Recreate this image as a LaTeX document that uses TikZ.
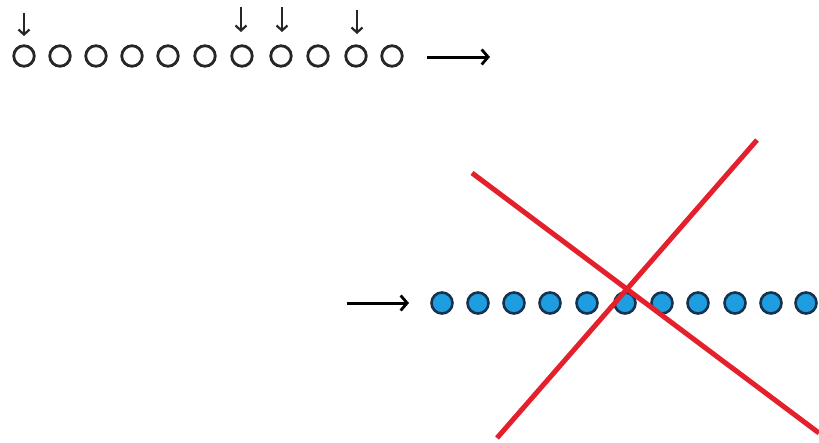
\documentclass[tikz,border=0pt]{standalone}
\usetikzlibrary{arrows.meta}
\definecolor{dotblue}{HTML}{1E9DE0}
\definecolor{dotedge}{HTML}{17324F}
\definecolor{crossred}{HTML}{E3202B}
\begin{document}
\begin{tikzpicture}[x=1pt,y=-1pt,
  ring/.style={circle,draw=black!85,line width=2.8pt,minimum size=20.5pt,inner sep=0pt},
  bead/.style={circle,draw=dotedge,fill=dotblue,line width=2.6pt,minimum size=21pt,inner sep=0pt},
  downarr/.style={-{Straight Barb[length=5pt,width=11pt,line width=2.2pt]},line width=2.4pt,black!85},
  longarr/.style={-{Straight Barb[length=6.5pt,width=15pt,line width=2.8pt]},line width=3pt,black},
  cross/.style={crossred,line width=5pt}]
\useasboundingbox (0,0) rectangle (819,442);
% top row
\foreach \i/\x in {1/24,2/60,3/96,4/132,5/168,6/205,7/242,8/281,9/318,10/356,11/392}
  \node[ring] (t\i) at (\x,56) {};
\coordinate (s1) at (24,13);   \coordinate (e1) at (24,36);
\coordinate (s7) at (241,7);   \coordinate (e7) at (241,32);
\coordinate (s8) at (282,7);   \coordinate (e8) at (282,32);
\coordinate (s10) at (357,10); \coordinate (e10) at (357,34);
\foreach \i in {1,7,8,10}
  \draw[downarr] (s\i) -- (e\i);
\coordinate (ra) at (427,57);
\coordinate (rb) at (490,57);
\draw[longarr] (ra) -- (rb);
% bottom row
\coordinate (la) at (347,303);
\coordinate (lb) at (409,303);
\draw[longarr] (la) -- (lb);
\foreach \i/\x in {1/442,2/478,3/514,4/550,5/587,6/625,7/662,8/698,9/735,10/771,11/806}
  \node[bead] (b\i) at (\x,303) {};
% red cross
\coordinate (c1) at (472,173);
\coordinate (c2) at (819,433);
\coordinate (c3) at (757,140);
\coordinate (c4) at (497,438);
\draw[cross] (c1) -- (c2);
\draw[cross] (c3) -- (c4);
\end{tikzpicture}
\end{document}
